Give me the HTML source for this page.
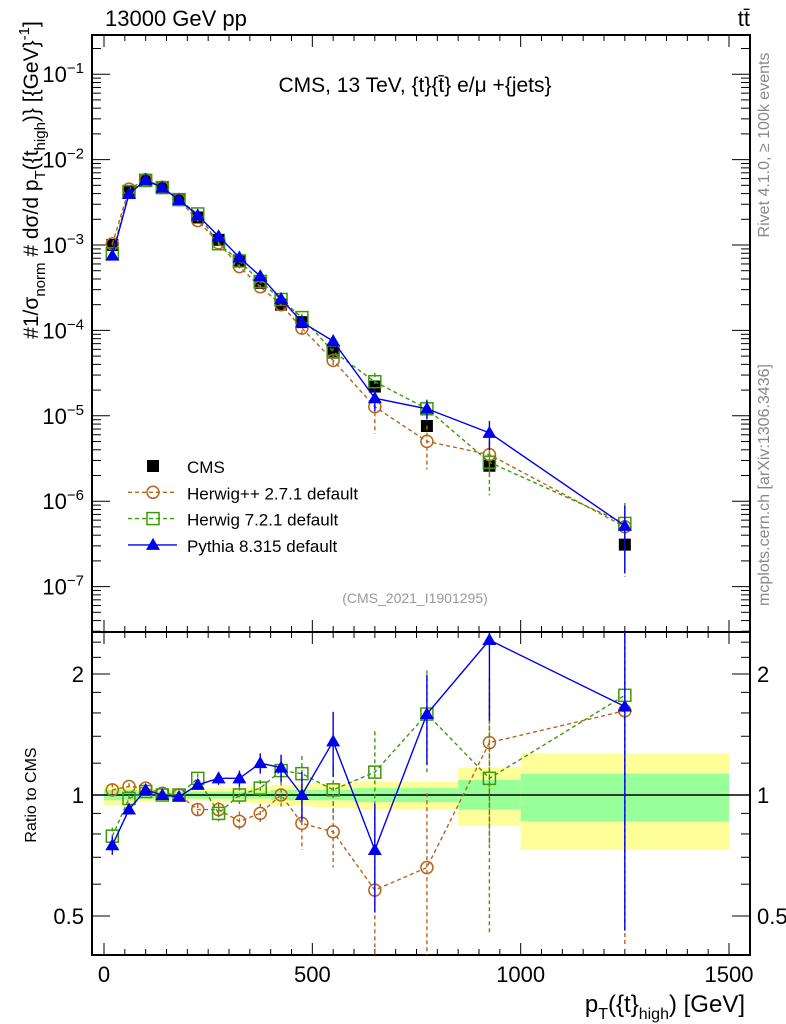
<!DOCTYPE html>
<html><head><meta charset="utf-8"><style>
body{margin:0;background:#fff;}
svg{display:block;font-family:"Liberation Sans",sans-serif;}
</style></head><body>
<svg id="chart" width="786" height="1024" viewBox="0 0 786 1024"></svg>
<script>
var binCenters=[20,60,100,140,180,225,275,325,375,425,475,550,650,775,925,1250];
var binEdges=[0,40,80,120,160,200,250,300,350,400,450,500,600,700,850,1000,1500];
var cmsValues=[1.0e-3,4.3e-3,5.6e-3,4.7e-3,3.4e-3,2.1e-3,1.15e-3,6.5e-4,3.6e-4,2.0e-4,1.25e-4,5.5e-5,2.2e-5,7.6e-6,2.6e-6,3.1e-7];
var bandStatUp=[0.03,0.03,0.02,0.02,0.02,0.02,0.02,0.02,0.02,0.03,0.03,0.03,0.04,0.04,0.09,0.13];
var bandStatDn=[0.03,0.03,0.02,0.02,0.02,0.02,0.02,0.02,0.02,0.03,0.03,0.03,0.04,0.04,0.08,0.14];
var bandTotUp=[0.06,0.05,0.04,0.03,0.03,0.03,0.04,0.04,0.05,0.06,0.06,0.07,0.08,0.08,0.17,0.27];
var bandTotDn=[0.06,0.05,0.04,0.03,0.03,0.03,0.04,0.04,0.05,0.06,0.06,0.07,0.08,0.08,0.16,0.27];
var herwigppRatio=[1.03,1.05,1.04,1.01,1.0,0.92,0.92,0.86,0.9,1.0,0.85,0.81,0.58,0.66,1.35,1.62];
var herwigppErr=[0.04,0.02,0.02,0.02,0.02,0.03,0.04,0.05,0.05,0.08,0.12,0.15,0.3,0.35,0.6,1.2];
var herwig7Ratio=[0.79,0.98,1.02,1.0,1.0,1.1,0.9,1.0,1.04,1.15,1.13,1.03,1.14,1.59,1.10,1.77];
var herwig7Err=[0.04,0.02,0.02,0.02,0.02,0.03,0.04,0.05,0.05,0.08,0.12,0.15,0.3,0.45,0.65,1.3];
var pythiaRatio=[0.75,0.92,1.03,1.0,0.99,1.06,1.1,1.1,1.2,1.17,1.0,1.36,0.73,1.59,2.43,1.66];
var pythiaErr=[0.04,0.02,0.02,0.02,0.02,0.03,0.04,0.05,0.07,0.09,0.14,0.25,0.22,0.4,0.9,1.2];
var xTicks=[0,500,1000,1500];
var mainYTicks=[-7,-6,-5,-4,-3,-2,-1];
var ratioTicks=[0.5,1,2];

var root=document.getElementById('chart');
var NS='http://www.w3.org/2000/svg';
function mk(t,a,p){var e=document.createElementNS(NS,t);for(var k in a)e.setAttribute(k,String(a[k]));(p||root).appendChild(e);return e;}
function ts(parent,s,dy,size){var e=document.createElementNS(NS,'tspan');if(dy)e.setAttribute('dy',String(dy));if(size)e.setAttribute('font-size',String(size));e.textContent=s;parent.appendChild(e);return e;}
var L=92,R=750,T=35,M=632,B=955;
function X(v){return 104+v*(625/1500);}
function Y(v){return 245-85.4*(Math.log10(v)+3);}
function YR(r){return 795-402*Math.log10(r);}
function clampR(y){return Math.max(M,Math.min(B,y));}
function clampM(y){return Math.max(T,Math.min(M,y));}

try{
for(var i=0;i<binCenters.length;i++){
  var x0=X(binEdges[i]),x1=X(binEdges[i+1]);
  var r1=mk('rect',{x:x0,y:YR(1+bandTotUp[i]),width:x1-x0,height:YR(1-bandTotDn[i])-YR(1+bandTotUp[i]),fill:'#ffff99'});
  
  
  var r2=mk('rect',{x:x0,y:YR(1+bandStatUp[i]),width:x1-x0,height:YR(1-bandStatDn[i])-YR(1+bandStatUp[i]),fill:'#99ff99'});
  
  
}
mk('line',{x1:L,x2:R,y1:YR(1),y2:YR(1),stroke:'#000','stroke-width':1.5});
}catch(e){console.log(e);}

try{
[[T,M],[M,B]].forEach(function(p){var f=mk('rect',{x:L,y:p[0],width:R-L,height:p[1]-p[0],fill:'none',stroke:'#000','stroke-width':2});

});
for(var v=0;v<=1550;v+=50){var x=X(v);if(x<L||x>R)continue;var len=(v%500===0)?12:6;
 [[T,1],[M,-1],[M,1],[B,-1]].forEach(function(p){mk('line',{x1:x,x2:x,y1:p[0],y2:p[0]+p[1]*len,stroke:'#000','stroke-width':1});});}
xTicks.forEach(function(v){var t=mk('text',{x:X(v),y:982,'font-size':22,'text-anchor':'middle'});t.textContent=String(v);

});
for(var e=-8;e<=0;e++)for(var m=1;m<10;m++){var y=Y(m*Math.pow(10,e));if(y<T||y>M)continue;var ln=m===1?18:9;
 mk('line',{x1:L,x2:L+ln,y1:y,y2:y,stroke:'#000'});mk('line',{x1:R,x2:R-ln,y1:y,y2:y,stroke:'#000'});}
mainYTicks.forEach(function(ex){var t=mk('text',{x:84,y:Y(Math.pow(10,ex))+8,'font-size':22,'text-anchor':'end'});
 ts(t,'10');ts(t,'\u2212'+(-ex),-9,15);
 
 });
[0.4,0.5,0.6,0.7,0.8,0.9,1,1.2,1.4,1.6,1.8,2,2.2,2.4].forEach(function(r){var y=YR(r);if(y<M||y>B)return;var ln=(r===0.5||r===1||r===2)?18:9;
 mk('line',{x1:L,x2:L+ln,y1:y,y2:y,stroke:'#000'});mk('line',{x1:R,x2:R-ln,y1:y,y2:y,stroke:'#000'});});
ratioTicks.forEach(function(r){[[84,'end'],[757,'start']].forEach(function(p){var t=mk('text',{x:p[0],y:YR(r)+8,'font-size':22,'text-anchor':p[1]});t.textContent=String(r);
 
 });});
}catch(e){console.log(e);}

function marker(kind,x,y,col,g){
 if(kind==='sq')mk('rect',{x:x-6,y:y-6,width:12,height:12,fill:'#000'},g);
 else if(kind==='osq')mk('rect',{x:x-6,y:y-6,width:12,height:12,fill:'none',stroke:col,'stroke-width':1.5},g);
 else if(kind==='circ')mk('circle',{cx:x,cy:y,r:6,fill:'none',stroke:col,'stroke-width':1.5},g);
 else mk('polygon',{points:x+','+(y-7)+' '+(x-7)+','+(y+5)+' '+(x+7)+','+(y+5),fill:col},g);
}
function sty(col,dash){var s={fill:'none',stroke:col,'stroke-width':1.4};if(dash)s['stroke-dasharray']=dash;return s;}
function withS(a,s){for(var k in s)a[k]=s[k];return a;}
function series(name,ratio,err,col,kind,dash){
 var gm=mk('g',{});
 
 
 var gr=mk('g',{});
 
 
 var pm=binCenters.map(function(c,i){return X(c)+','+Y(cmsValues[i]*ratio[i]);}).join(' ');
 var pr=binCenters.map(function(c,i){return X(c)+','+clampR(YR(ratio[i]));}).join(' ');
 mk('polyline',withS({points:pm},sty(col,dash)),gm);
 mk('polyline',withS({points:pr},sty(col,dash)),gr);
 binCenters.forEach(function(c,i){var x=X(c);var r=ratio[i],e=err[i];
  var lo=Math.max(r-e,0.01),hi=r+e;
  mk('line',withS({x1:x,x2:x,y1:clampR(YR(hi)),y2:clampR(YR(lo))},sty(col,dash)),gr);
  mk('line',withS({x1:x,x2:x,y1:clampM(Y(cmsValues[i]*hi)),y2:clampM(Y(cmsValues[i]*lo))},sty(col,dash)),gm);
  marker(kind,x,Y(cmsValues[i]*r),col,gm);
  var yr=YR(r);if(yr>=M&&yr<=B)marker(kind,x,yr,col,gr);
 });
}
try{
var gc=mk('g',{});


binCenters.forEach(function(c,i){marker('sq',X(c),Y(cmsValues[i]),'#000',gc);});
series('herwigpp',herwigppRatio,herwigppErr,'#b5651d','circ','4,3');
series('herwig7',herwig7Ratio,herwig7Err,'#3a9a0a','osq','4,3');
series('pythia',pythiaRatio,pythiaErr,'#0000ee','tri',null);
}catch(e){console.log(e);}

try{
var leg=[['CMS','sq','#000',null],['Herwig++ 2.7.1 default','circ','#b5651d','4,3'],['Herwig 7.2.1 default','osq','#3a9a0a','4,3'],['Pythia 8.315 default','tri','#0000ee',null]];
leg.forEach(function(l,i){var y=466+i*26.3;var g=mk('g',{});
 
 
 if(l[0]!=='CMS'){mk('line',withS({x1:128,x2:177,y1:y,y2:y},sty(l[2],l[3])),g);}
 marker(l[1],153,y,l[2],g);var t=mk('text',{x:187,y:y+7,'font-size':17},g);t.textContent=l[0];});
}catch(e){console.log(e);}

function txt(s,a,name){var t=mk('text',a);if(s)t.textContent=s;
 
 return t;}
try{
txt('13000 GeV pp',{x:105,y:26,'font-size':22},'header-left');
txt('t\u0074\u0304',{x:750,y:26,'font-size':22,'text-anchor':'end'},'header-right');
txt('CMS, 13 TeV, {t}{t\u0304} e/\u03bc +{jets}',{x:415,y:92,'font-size':21,'text-anchor':'middle'},'plot-title');
txt('(CMS_2021_I1901295)',{x:415,y:603,'font-size':14,'text-anchor':'middle',fill:'#999'},'analysis-id');
txt('Rivet 4.1.0, \u2265 100k events',{x:0,y:0,'font-size':16,fill:'#888','text-anchor':'middle',transform:'translate(769,145) rotate(-90)'},'rivet-label');
txt('mcplots.cern.ch [arXiv:1306.3436]',{x:0,y:0,'font-size':16,fill:'#888','text-anchor':'middle',transform:'translate(769,485) rotate(-90)'},'mcplots-label');
txt('Ratio to CMS',{x:0,y:0,'font-size':16,'text-anchor':'middle',transform:'translate(36,795) rotate(-90)'},'ratio-y-title');
var xt=txt('',{x:745,y:1012,'font-size':24,'text-anchor':'end'},'x-axis-title');
ts(xt,'p');ts(xt,'T',7,16);ts(xt,'({t}',-7);ts(xt,'high',7,16);ts(xt,') [GeV]',-7);
var yt=txt('',{x:0,y:0,'font-size':21,'text-anchor':'middle',transform:'translate(38,180) rotate(-90)'},'y-axis-title');
ts(yt,'#1/\u03c3');ts(yt,'norm',7,15);ts(yt,' # d\u03c3/d p',-7);ts(yt,'T',7,15);ts(yt,'({t',-7);ts(yt,'high',7,15);ts(yt,')} [{GeV}',-7);ts(yt,'-1',-9,15);ts(yt,']',9);
}catch(e){console.log(e);}
</script>
</body></html>
